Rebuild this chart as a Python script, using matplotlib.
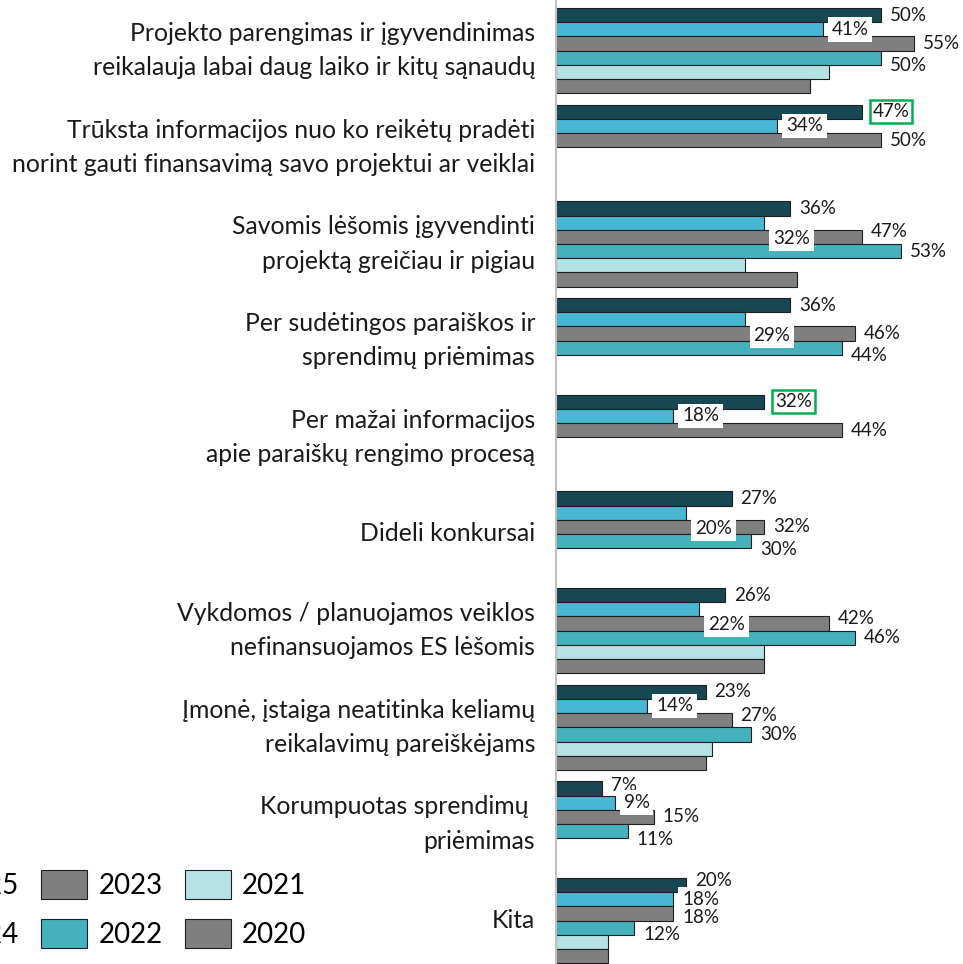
import matplotlib
matplotlib.use("Agg")
import matplotlib.pyplot as plt
from matplotlib.patches import Patch
import numpy as np

plt.rcParams['font.family'] = ['Lato', 'DejaVu Sans']

categories = [
    "Projekto parengimas ir įgyvendinimas\nreikalauja labai daug laiko ir kitų sąnaudų",
    "Trūksta informacijos nuo ko reikėtų pradėti\nnorint gauti finansavimą savo projektui ar veiklai",
    "Savomis lėšomis įgyvendinti\nprojektą greičiau ir pigiau",
    "Per sudėtingos paraiškos ir\nsprendimų priėmimas",
    "Per mažai informacijos\napie paraiškų rengimo procesą",
    "Dideli konkursai",
    "Vykdomos / planuojamos veiklos\nnefinansuojamos ES lėšomis",
    "Įmonė, įstaiga neatitinka keliamų\nreikalavimų pareiškėjams",
    "Korumpuotas sprendimų \npriėmimas",
    "Kita",
]
series_names = ["2025", "2024", "2023", "2022", "2021", "2020"]
v2025 = [50, 47, 36, 36, 32, 27, 26, 23, 7, 20]
v2024 = [41, 34, 32, 29, 18, 20, 22, 14, 9, 18]
v2023 = [55, 50, 47, 46, 44, 32, 42, 27, 15, 18]
v2022 = [50, None, 53, 44, None, 30, 46, 30, 11, 12]
v2021 = [42, None, 29, None, None, None, 32, 24, None, 8]
v2020 = [39, None, 37, None, None, None, 32, 23, None, 8]
show_label = [True, True, True, True, False, False]
highlight = [(1, 0), (4, 0)]  # (category, series) framed in green

colors = ["#174753", "#47B7D4", "#7F7F7F", "#45B1BD", "#B6E2E6", "#7F7F7F"]
label_z = [5, 6, 7, 5, 5, 5]
# vertical nudges of value labels in pixels (positive = down)
nudge = {(0, 3): 8, (2, 1): 16, (2, 2): -5, (3, 1): 16, (3, 3): 8,
         (5, 1): 16, (5, 3): 8, (6, 1): 15, (6, 2): -5, (7, 2): -5,
         (8, 0): -3, (8, 3): 8, (9, 0): -5, (9, 2): 4, (9, 3): 7}

values = [v2025, v2024, v2023, v2022, v2021, v2020]

W, H = 963, 964
dpi = 100
fig = plt.figure(figsize=(W / dpi, H / dpi), dpi=dpi)
ax_left = 556 / W
ax = fig.add_axes([ax_left, 0, 1 - ax_left, 1])

G = 6.8
nb = 6
px2pt = 72 / dpi
for s, vals in enumerate(values):
    for i, v in enumerate(vals):
        if v is None:
            continue
        y = i * G + s + 0.5
        ax.barh(y, v, height=1.0, color=colors[s], edgecolor="#1f1f1f",
                linewidth=0.8, zorder=2)
        if not show_label[s]:
            continue
        dy = -nudge.get((i, s), 0) * px2pt
        kw = dict(fontsize=13.5, va="center", ha="left", color="#1a1a1a",
                  zorder=label_z[s], textcoords="offset points",
                  xytext=(6.5, dy), annotation_clip=False)
        if (i, s) in highlight:
            kw["bbox"] = dict(boxstyle="square,pad=0.15", facecolor="white",
                              edgecolor="#00B050", linewidth=1.8)
            kw["xytext"] = (8.0, dy)
        elif s == 1:
            kw["bbox"] = dict(boxstyle="square,pad=0.2", facecolor="white",
                              edgecolor="none")
        ax.annotate(f"{v}%", xy=(v, y), **kw)

ax.set_xlim(0, (W - 556) / 6.5)
top = -8 / 14.2
ax.set_ylim(9 * G + 6.05, top)

centers = [i * G + nb / 2 for i in range(len(categories))]
for c, lab in zip(centers, categories):
    ax.annotate(lab, xy=(0, c), xytext=(-15, 0), textcoords="offset points",
                ha="right", va="center", multialignment="right",
                fontsize=17.8, linespacing=1.6, color="#1a1a1a",
                annotation_clip=False)

for sp in ["top", "right", "bottom"]:
    ax.spines[sp].set_visible(False)
ax.spines["left"].set_color("#C0C0C0")
ax.spines["left"].set_linewidth(1.5)
ax.set_xticks([])
ax.set_yticks([])
ax.patch.set_alpha(0)

handles = [Patch(facecolor=colors[s], edgecolor="#1f1f1f", linewidth=0.8)
           for s in range(nb)]
fs_leg = 20
leg = fig.legend(handles, series_names, ncol=3, loc="upper left",
                 bbox_to_anchor=(-102 / W, 1 - 870 / H),
                 frameon=False, fontsize=fs_leg, handlelength=1.65,
                 handleheight=1.22, handletextpad=0.4, columnspacing=0.8,
                 labelspacing=0.72, borderpad=0, borderaxespad=0)

fig.savefig("out.png", dpi=dpi)
